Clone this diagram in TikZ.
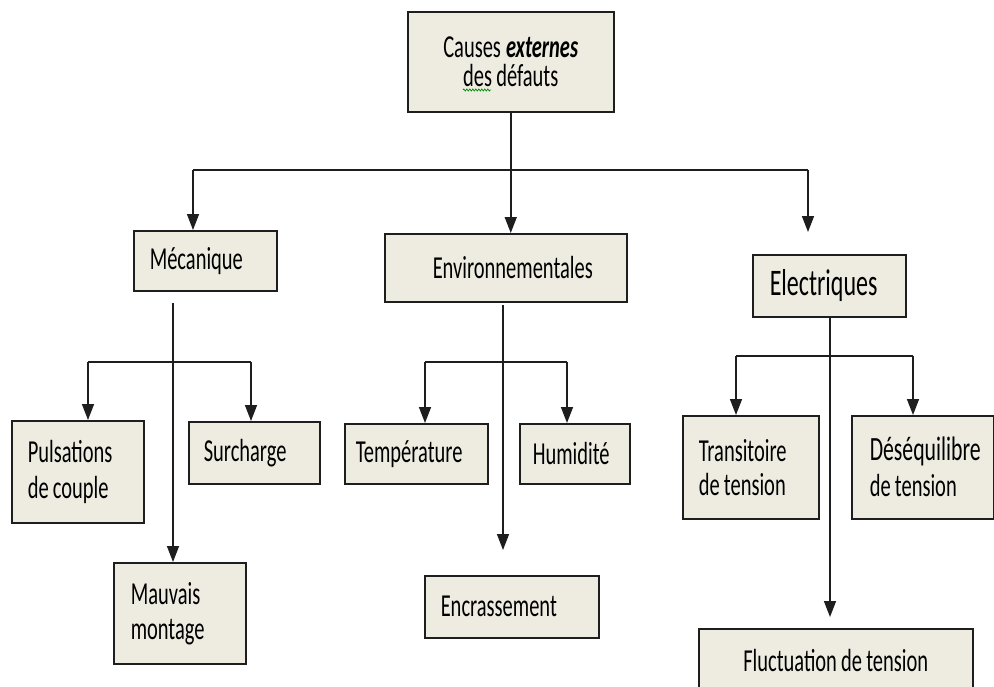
\documentclass[tikz,border=0pt]{standalone}
\usepackage{fontspec}
\newfontfamily\cf[FakeStretch=0.64]{Carlito}
\newcommand\myfnt[2]{\cf\fontsize{#1}{#2}\selectfont}
\newcommand\gp{\hspace{4.2pt}}
\usetikzlibrary{arrows.meta,decorations.pathmorphing}
\definecolor{boxfill}{HTML}{EEECE1}
\definecolor{edge}{HTML}{1E1E1E}
\tikzset{
  bx/.style={draw=edge, fill=boxfill, line width=1.5pt, anchor=north west,
    inner ysep=0pt, align=left, text=black, font=\myfnt{32}{36}},
  ln/.style={draw=edge, line width=1.5pt},
  arr/.style={ln, -{Triangle[length=16pt,width=12pt]}},
}
\begin{document}
\begin{tikzpicture}[x=1pt,y=-1pt]
\clip (0,0) rectangle (994,686);
\fill[white] (0,0) rectangle (994,686);
% boxes
\node[bx, align=center, inner xsep=0pt, text width=206pt, minimum height=100pt,
  font=\myfnt{32}{29}] (top) at (407,11)
  {Causes\hspace{5pt}\textbf{\textit{externes}}\\des\gp défauts};
\node[bx, inner xsep=16pt, text width=111pt, minimum height=60pt] (mec) at (133,230) {Mécanique};
\node[bx, inner xsep=48pt, text width=146pt, minimum height=68pt] (env) at (384,233) {Environnementales};
\node[bx, inner xsep=17pt, text width=119pt, minimum height=62pt,
  font=\myfnt{37.5}{40}] (ele) at (752,254) {Electriques};
\node[bx, inner xsep=16pt, text width=100pt, minimum height=102pt] (pul) at (11,420) {Pulsations\\de\gp couple};
\node[bx, inner xsep=15pt, text width=101pt, minimum height=62pt] (sur) at (188,421) {Surcharge};
\node[bx, inner xsep=17pt, text width=98pt, minimum height=101pt,
  font=\myfnt{32}{35}] (mau) at (113,562) {Mauvais\\montage};
\node[bx, inner xsep=11pt, text width=121pt, minimum height=60pt] (tem) at (344,423) {Température};
\node[bx, inner xsep=13pt, text width=84pt, minimum height=60pt] (hum) at (519,423) {Humidité};
\node[bx, inner xsep=16pt, text width=142pt, minimum height=62pt] (enc) at (424,575) {Encrassement};
\node[bx, inner xsep=16pt, text width=104pt, minimum height=103pt,
  font=\myfnt{32}{34}] (tra) at (682,415) {Transitoire\\de\gp tension};
\node[bx, inner xsep=18pt, text width=106pt, minimum height=103pt,
  font=\myfnt{32}{36}] (deq) at (851,415) {{\fontsize{34}{36}\selectfont Déséquilibre}\\de\gp tension};
\node[bx, align=center, inner xsep=0pt, text width=274pt, minimum height=64pt] (flu) at (698,628) {Fluctuation\gp de\gp tension};
% spell-check squiggle
\draw[green!55!black, line width=0.7pt, decorate, decoration={zigzag, amplitude=1pt, segment length=3pt}] (463,90) -- (491,90);
% level 1 connectors
\coordinate (j1L) at (193,170);
\coordinate (j1R) at (808,170);
\coordinate (eArr) at (808,232);
\draw[ln] (j1L) -- (j1R);
\draw[arr] (top.south) -- (top.south |- env.north);
\draw[arr] (j1L) -- (j1L |- mec.north);
\draw[arr] (j1R) -- (eArr);
% Mecanique subtree
\coordinate (mS) at (173,303);
\coordinate (mL) at (88,362);
\coordinate (mR) at (251,362);
\draw[arr] (mS) -- (mS |- mau.north);
\draw[ln] (mL) -- (mR);
\draw[arr] (mL) -- (mL |- pul.north);
\draw[arr] (mR) -- (mR |- sur.north);
% Environnementales subtree
\coordinate (eS) at (503,305);
\coordinate (eE) at (503,550);
\coordinate (eL) at (425,362);
\coordinate (eR) at (567,362);
\draw[arr] (eS) -- (eE);
\draw[ln] (eL) -- (eR);
\draw[arr] (eL) -- (eL |- tem.north);
\draw[arr] (eR) -- (eR |- hum.north);
% Electriques subtree
\coordinate (lS) at (830,316);
\coordinate (lE) at (830,617);
\coordinate (lL) at (736,356);
\coordinate (lR) at (913,356);
\draw[arr] (lS) -- (lE);
\draw[ln] (lL) -- (lR);
\draw[arr] (lL) -- (lL |- tra.north);
\draw[arr] (lR) -- (lR |- deq.north);
\end{tikzpicture}
\end{document}
